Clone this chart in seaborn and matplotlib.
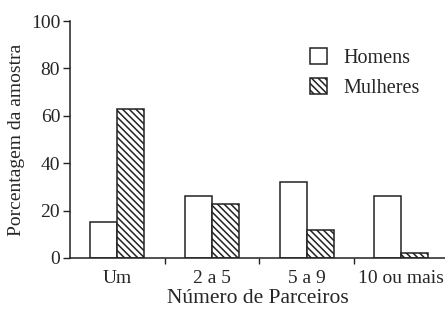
import pandas as pd
import seaborn as sns
import matplotlib.pyplot as plt

# dados
categorias = ["Um", "2 a 5", "5 a 9", "10 ou mais"]
homens = [15, 26, 32, 26]
mulheres = [63, 23, 12, 2]

df = pd.DataFrame({
    "Parceiros": categorias * 2,
    "Porcentagem": homens + mulheres,
    "Sexo": ["Homens"] * 4 + ["Mulheres"] * 4,
})

sns.set_style("white")
plt.rcParams["font.family"] = ["Liberation Serif", "DejaVu Serif"]
plt.rcParams["hatch.linewidth"] = 1.1
plt.rcParams["hatch.color"] = "#222222"

fig = plt.figure(figsize=(4.45, 3.15), dpi=100)
ax = fig.add_axes([0.157, 0.181, 0.843, 0.752])

sns.barplot(data=df, x="Parceiros", y="Porcentagem", hue="Sexo",
            palette=["white", "white"], edgecolor="#222222", linewidth=1.1,
            width=0.57, ax=ax, legend=False)

for p in ax.containers[1]:
    p.set_hatch("\\\\\\\\\\")

ax.set_ylim(0, 100)
ax.set_xlim(-0.5, 3.46)
ax.set_yticks([0, 20, 40, 60, 80, 100])
ax.set_xticks([0, 1, 2, 3])
ax.set_xticks([0.5, 1.5, 2.5], minor=True)
ax.set_xticklabels(categorias)
ax.tick_params(axis="x", which="major", length=0, pad=9, labelsize=14)
ax.tick_params(axis="x", which="minor", length=4, width=1, direction="out",
               color="#222222", bottom=True)
ax.tick_params(axis="y", length=5, width=1, direction="out", color="#222222",
               left=True, labelsize=14, pad=2)

for s in ["top", "right"]:
    ax.spines[s].set_visible(False)
for s in ["left", "bottom"]:
    ax.spines[s].set_color("#222222")
    ax.spines[s].set_linewidth(1.1)

ax.set_xlabel("Número de Parceiros", fontsize=15.5, labelpad=1)
ax.set_ylabel("Porcentagem da amostra", fontsize=14, labelpad=4)

ax.legend(handles=list(ax.containers), labels=["Homens", "Mulheres"],
          loc="upper right", bbox_to_anchor=(0.98, 0.965), frameon=False,
          fontsize=14.5, handlelength=0.85, handleheight=0.85,
          labelspacing=0.5, handletextpad=0.8)

fig.savefig("out.png", dpi=100)
